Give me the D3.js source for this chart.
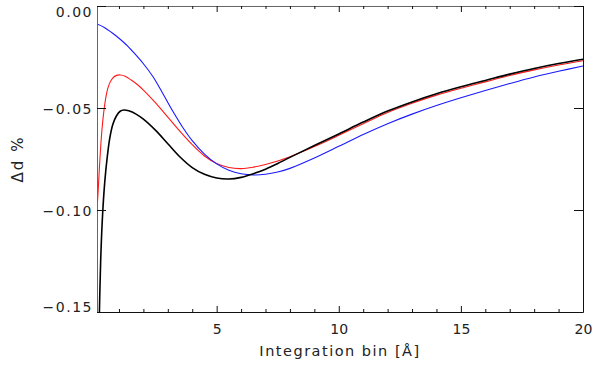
<!DOCTYPE html>
<html>
<head>
<meta charset="utf-8">
<script src="https://cdn.jsdelivr.net/npm/d3@7"></script>
<style>
  html, body { margin: 0; padding: 0; background: #fff; }
  svg text { font-family: "DejaVu Sans", "Liberation Sans", sans-serif; fill: #222; }
</style>
</head>
<body>
<svg id="chart" width="597" height="367"></svg>
<script>
// Relative change of d (%) versus integration bin width, three cases.
const binBlack = [0.18, 0.25, 0.33, 0.42, 0.52, 0.62, 0.75, 0.9, 1.05, 1.2, 1.4, 1.7, 2.0, 2.5, 3.0, 3.5, 4.0, 4.5, 5.0, 5.5, 6.0, 6.5, 7.0, 7.5, 8.0, 9, 10, 11, 12, 13, 14, 15, 16, 17, 18, 19, 20];
const deltaBlack = [-0.160, -0.125, -0.102, -0.086, -0.0740, -0.0650, -0.0580, -0.0538, -0.0516, -0.0510, -0.0514, -0.0530, -0.0555, -0.0610, -0.0675, -0.0740, -0.0792, -0.0825, -0.0843, -0.0848, -0.0840, -0.0822, -0.0800, -0.0772, -0.0742, -0.0684, -0.0627, -0.0569, -0.0515, -0.0470, -0.0430, -0.0396, -0.0365, -0.0334, -0.0306, -0.0282, -0.0261];

const binRed = [0.1, 0.15, 0.2, 0.3, 0.4, 0.5, 0.6, 0.75, 0.9, 1.05, 1.25, 1.5, 1.75, 2.0, 2.5, 3.0, 3.5, 4.0, 4.5, 5.0, 5.5, 6.0, 6.5, 7.0, 7.5, 8.0, 9, 10, 11, 12, 13, 14, 15, 16, 17, 18, 19, 20];
const deltaRed = [-0.100, -0.090, -0.079, -0.0610, -0.0498, -0.0425, -0.0383, -0.0352, -0.0340, -0.0338, -0.0344, -0.0363, -0.0385, -0.0412, -0.0475, -0.0545, -0.0615, -0.0680, -0.0735, -0.0772, -0.0792, -0.0797, -0.0790, -0.0777, -0.0760, -0.0739, -0.0689, -0.0634, -0.0577, -0.0522, -0.0477, -0.0437, -0.0403, -0.0372, -0.0341, -0.0313, -0.0289, -0.0268];

const binBlue = [0.1, 0.4, 0.7, 1.0, 1.3, 1.6, 2.0, 2.4, 2.8, 3.2, 3.6, 4.0, 4.5, 5.0, 5.5, 6.0, 6.5, 7.0, 7.5, 8.0, 9, 10, 11, 12, 13, 14, 15, 16, 17, 18, 19, 20];
const deltaBlue = [-0.0088, -0.0105, -0.0130, -0.0158, -0.0190, -0.0228, -0.0283, -0.0348, -0.0430, -0.0515, -0.0593, -0.0660, -0.0726, -0.0774, -0.0805, -0.0822, -0.0828, -0.0825, -0.0814, -0.0796, -0.0745, -0.0688, -0.0630, -0.0577, -0.0530, -0.0488, -0.0450, -0.0414, -0.0380, -0.0348, -0.0320, -0.0294];

const xMajorTicks = [5, 10, 15, 20];
const xMinorTicks = [1, 2, 3, 4, 6, 7, 8, 9, 11, 12, 13, 14, 16, 17, 18, 19];
const yTicks = [0, -0.05, -0.10, -0.15];
const yTickLabels = ["0.00", "\u22120.05", "\u22120.10", "\u22120.15"];
const xLabel = "Integration bin [\u00C5]";
const yLabel = "\u0394d %";

const margin = { left: 97, right: 14, top: 6, bottom: 55 };
const W = 597, H = 367;
const svg = d3.select("#chart");

const x = d3.scaleLinear().domain([0.1, 20]).range([margin.left, W - margin.right]);
const y = d3.scaleLinear().domain([-0.15, 0]).range([H - margin.bottom, margin.top]);

const x0 = x.range()[0], x1 = x.range()[1];
const y0 = y.range()[0], y1 = y.range()[1];

svg.append("defs").append("clipPath").attr("id", "plot")
  .append("rect").attr("x", x0).attr("y", y1).attr("width", x1 - x0).attr("height", y0 - y1);

// Curves
const series = [
  { xs: binRed, ys: deltaRed, color: "#ff1a1a", width: 1.1 },
  { xs: binBlue, ys: deltaBlue, color: "#1a1aff", width: 1.1 },
  { xs: binBlack, ys: deltaBlack, color: "#000", width: 1.6 }
];
const line = d3.line().x(d => x(d[0])).y(d => y(d[1])).curve(d3.curveCatmullRom.alpha(0.5));
const g = svg.append("g").attr("clip-path", "url(#plot)");
series.forEach(s => {
  g.append("path")
    .datum(s.xs.map((v, i) => [v, s.ys[i]]))
    .attr("d", line)
    .attr("fill", "none")
    .attr("stroke", s.color)
    .attr("stroke-width", s.width)
    .attr("stroke-linejoin", "round");
});

// Axes: bottom and left with labels, top and right mirrored without labels
const axisColor = "#111";
svg.append("g").attr("transform", `translate(0,${y0})`)
  .call(d3.axisBottom(x).tickValues(xMajorTicks).tickSizeInner(-6).tickSizeOuter(0).tickPadding(12))
  .call(a => a.select(".domain").attr("stroke", axisColor))
  .call(a => a.selectAll(".tick line").attr("stroke", axisColor))
  .call(a => a.selectAll("text").attr("font-size", 14).attr("dy", "0.71em"));
svg.append("g").attr("transform", `translate(0,${y0})`)
  .call(d3.axisBottom(x).tickValues(xMinorTicks).tickSizeInner(-3).tickSizeOuter(0).tickFormat(""))
  .call(a => a.select(".domain").remove())
  .call(a => a.selectAll(".tick line").attr("stroke", axisColor));

svg.append("g").attr("transform", `translate(0,${y1})`)
  .call(d3.axisTop(x).tickValues(xMajorTicks).tickSizeInner(-6).tickSizeOuter(0).tickFormat(""))
  .call(a => a.select(".domain").attr("stroke", "#666"))
  .call(a => a.selectAll(".tick line").attr("stroke", axisColor));
svg.append("g").attr("transform", `translate(0,${y1})`)
  .call(d3.axisTop(x).tickValues(xMinorTicks).tickSizeInner(-3).tickSizeOuter(0).tickFormat(""))
  .call(a => a.select(".domain").remove())
  .call(a => a.selectAll(".tick line").attr("stroke", axisColor));

const left = svg.append("g").attr("transform", `translate(${x0},0)`)
  .call(d3.axisLeft(y).tickValues(yTicks).tickSizeInner(-9).tickSizeOuter(0).tickFormat(""))
  .call(a => a.select(".domain").attr("stroke", "#666"))
  .call(a => a.selectAll(".tick line").attr("stroke", axisColor));

// Y tick labels, kept inside the vertical extent of the frame
left.selectAll("text.ylab")
  .data(yTicks)
  .join("text")
  .attr("class", "ylab")
  .attr("x", -4)
  .attr("y", d => Math.max(y1 + 6, Math.min(y0 - 5, y(d) + 1)))
  .attr("dy", "0.36em")
  .attr("text-anchor", "end")
  .attr("font-size", 14)
  .attr("letter-spacing", 1.5)
  .text((d, i) => yTickLabels[i]);

svg.append("g").attr("transform", `translate(${x1},0)`)
  .call(d3.axisRight(y).tickValues(yTicks).tickSizeInner(-9).tickSizeOuter(0).tickFormat(""))
  .call(a => a.select(".domain").attr("stroke", axisColor))
  .call(a => a.selectAll(".tick line").attr("stroke", axisColor));

// Axis titles
svg.append("text")
  .attr("x", (x0 + x1) / 2).attr("y", 356)
  .attr("text-anchor", "middle").attr("font-size", 14.5)
  .attr("letter-spacing", 1.5)
  .text(xLabel);

svg.append("text")
  .attr("transform", `translate(23,${(y0 + y1) / 2}) rotate(-90)`)
  .attr("text-anchor", "middle").attr("font-size", 15)
  .attr("letter-spacing", 2)
  .text(yLabel);
</script>
</body>
</html>
